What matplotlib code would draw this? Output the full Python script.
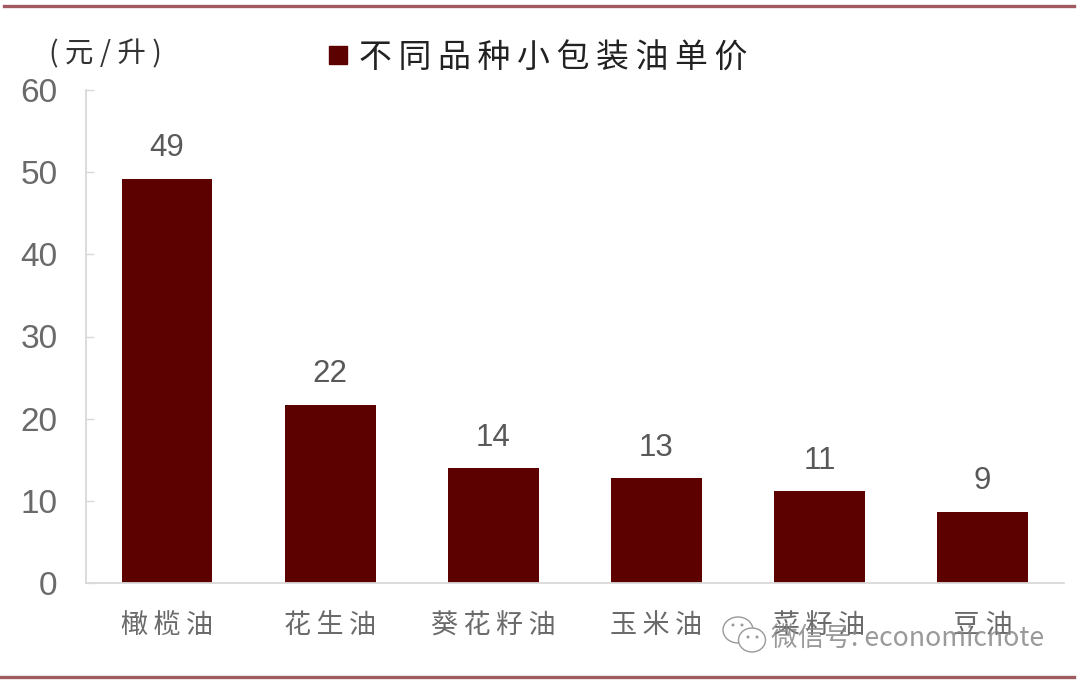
import matplotlib
matplotlib.use("Agg")
import matplotlib.pyplot as plt
from matplotlib.patches import Ellipse

plt.rcParams['font.family'] = ['Noto Sans CJK SC', 'DejaVu Sans']

categories = ["橄榄油", "花生油", "葵花籽油", "玉米油", "菜籽油", "豆油"]
prices = [49.2, 21.7, 14.0, 12.8, 11.2, 8.7]
price_labels = ["49", "22", "14", "13", "11", "9"]
y_ticks = [0, 10, 20, 30, 40, 50, 60]

W, H = 1080, 684
DARK = "#5c0000"
RULE = "#a05a60"
GREY = "#595959"
THIN = "\u2009"


def fx(px):
    return px / W


def fy(py):
    return 1 - py / H


def spaced(s):
    # 原图字距较宽，用细空格撑开
    return THIN.join(s)


fig = plt.figure(figsize=(W / 100, H / 100), dpi=100)
ax = fig.add_axes([fx(85.5), fy(583), (1064 - 85.5) / W, (583 - 90) / H])

xs = list(range(len(categories)))
bars = ax.bar(xs, prices, width=0.557, color=DARK)
ax.set_xlim(-0.5, 5.5)
ax.set_ylim(0, 60)

for bar, label in zip(bars, price_labels):
    ax.annotate(label, (bar.get_x() + bar.get_width() / 2, bar.get_height()),
                xytext=(0, 11), textcoords="offset points", ha="center", va="bottom",
                fontsize=22.5, color=GREY, family="Liberation Sans")

ax.set_xticks(xs)
ax.set_xticklabels([spaced(c) for c in categories], fontsize=19.5, color="#6a6a6a")
ax.tick_params(axis="x", length=0, pad=21)
ax.set_yticks(y_ticks)
ax.set_yticklabels([str(v) for v in y_ticks], fontsize=24, color="#6a6a6a", family="Liberation Sans")
ax.tick_params(axis="y", direction="in", length=6, width=1, color="#d9d9d9", pad=20)

for side in ["top", "right"]:
    ax.spines[side].set_visible(False)
for side in ["left", "bottom"]:
    ax.spines[side].set_color("#d9d9d9")
    ax.spines[side].set_linewidth(1.3)

# 上下两条横线
fig.add_artist(plt.Line2D([fx(4), fx(1074)], [fy(6), fy(6)], color=RULE, lw=2.4))
fig.add_artist(plt.Line2D([fx(0), fx(1074)], [fy(677), fy(677)], color=RULE, lw=2.4))

fig.text(fx(105), fy(54), "( 元 / 升 )", fontsize=20.5, color="#333333", ha="center", va="center")

# 图例
fig.patches.append(plt.Rectangle((fx(329), fy(64)), 18 / W, 18 / H, color=DARK,
                                 transform=fig.transFigure, figure=fig))
fig.text(fx(359), fy(59), spaced("不同品种小包装油单价"), fontsize=23.7, color="#222222", ha="left", va="center")

# 水印
fig.text(fx(771), fy(638), "微信号: economicnote", fontsize=19.2, color="#888888", ha="left", va="center",
         alpha=0.85, zorder=5)
for cx, cy, ew, eh in [(738, 630, 30, 26), (752, 640, 27, 24)]:
    fig.add_artist(Ellipse((fx(cx), fy(cy)), ew / W, eh / H, transform=fig.transFigure,
                           facecolor="white", edgecolor="#999999", lw=1))
for cx, cy in [(733, 625), (742, 625), (748, 637), (757, 637)]:
    fig.add_artist(Ellipse((fx(cx), fy(cy)), 3 / W, 3 / H, transform=fig.transFigure,
                           facecolor="#999999", edgecolor="none"))

fig.savefig("out.png", dpi=100)
